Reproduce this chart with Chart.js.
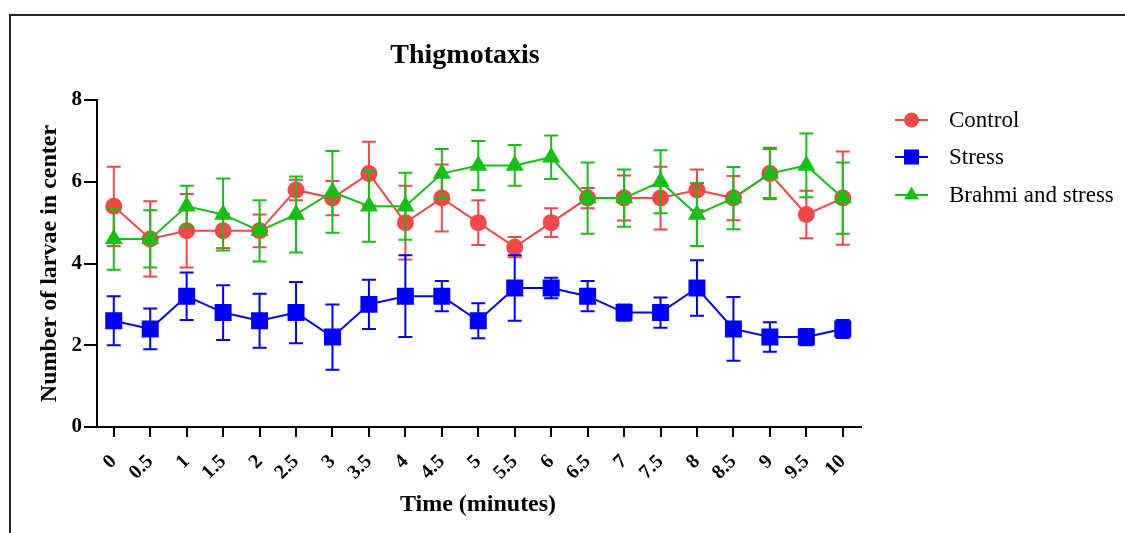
<!DOCTYPE html>
<html>
<head>
<meta charset="utf-8">
<script src="https://cdn.jsdelivr.net/npm/chart.js@4.4.0/dist/chart.umd.min.js"></script>
<style>
  html, body { margin: 0; padding: 0; background: #fff; }
  #wrap { position: relative; width: 1125px; height: 533px; overflow: hidden; }
  #frame { position: absolute; left: 9px; top: 14px; width: 1200px; height: 600px;
           border-top: 2px solid #222; border-left: 2px solid #222; }
  canvas { position: absolute; left: 0; top: 0; }
</style>
</head>
<body>
<div id="wrap">
  <div id="frame"></div>
  <canvas id="c" width="1125" height="533"></canvas>
</div>
<script>
// ---- data ----
const chartTitle = "Thigmotaxis";
const xAxisTitle = "Time (minutes)";
const yAxisTitle = "Number of larvae in center";
const timePoints = [0, 0.5, 1, 1.5, 2, 2.5, 3, 3.5, 4, 4.5, 5, 5.5, 6, 6.5, 7, 7.5, 8, 8.5, 9, 9.5, 10];
const xTickLabels = ["0", "0.5", "1", "1.5", "2", "2.5", "3", "3.5", "4", "4.5", "5", "5.5", "6", "6.5", "7", "7.5", "8", "8.5", "9", "9.5", "10"];
const yTickValues = [0, 2, 4, 6, 8];
const seriesNames = ["Control", "Stress", "Brahmi and stress"];

const controlMean = [5.4, 4.6, 4.8, 4.8, 4.8, 5.8, 5.6, 6.2, 5.0, 5.6, 5.0, 4.4, 5.0, 5.6, 5.6, 5.6, 5.8, 5.6, 6.2, 5.2, 5.6];
const controlErr  = [0.97, 0.92, 0.9, 0.42, 0.4, 0.25, 0.42, 0.78, 0.9, 0.82, 0.55, 0.25, 0.35, 0.25, 0.55, 0.77, 0.5, 0.54, 0.63, 0.58, 1.14];

const stressMean = [2.6, 2.4, 3.2, 2.8, 2.6, 2.8, 2.2, 3.0, 3.2, 3.2, 2.6, 3.4, 3.4, 3.2, 2.8, 2.8, 3.4, 2.4, 2.2, 2.2, 2.4];
const stressErr  = [0.6, 0.5, 0.58, 0.67, 0.66, 0.75, 0.8, 0.6, 1.0, 0.37, 0.43, 0.8, 0.25, 0.37, 0.2, 0.37, 0.68, 0.78, 0.36, 0.2, 0.22];

const brahmiMean = [4.6, 4.6, 5.4, 5.2, 4.8, 5.2, 5.75, 5.4, 5.4, 6.2, 6.4, 6.4, 6.6, 5.6, 5.6, 6.0, 5.2, 5.6, 6.2, 6.4, 5.6];
const brahmiErr  = [0.75, 0.7, 0.5, 0.88, 0.75, 0.93, 1.0, 0.87, 0.82, 0.6, 0.6, 0.5, 0.53, 0.87, 0.7, 0.77, 0.77, 0.76, 0.6, 0.78, 0.87];

// ---- styling ----
const RED = "#F24848", BLUE = "#0000FF", GREEN = "#16C016";
const SERIF = "'Liberation Serif', 'Times New Roman', serif";

function pts(means) { return timePoints.map((t, i) => ({ x: t, y: means[i] })); }

const errBars = [controlErr, stressErr, brahmiErr];

const errorBarPlugin = {
  id: "errorBars",
  afterDatasetDraw(chart, args) {
    const i = args.index;
    const ds = chart.data.datasets[i];
    const meta = args.meta;
    const ys = chart.scales.y;
    const ctx = chart.ctx;
    const errs = errBars[i];
    ctx.save();
    ctx.strokeStyle = ds.borderColor;
    ctx.lineWidth = 2;
    meta.data.forEach((el, k) => {
      const v = ds.data[k].y, e = errs[k];
      const x = el.x;
      const yTop = ys.getPixelForValue(v + e);
      const yBot = ys.getPixelForValue(v - e);
      ctx.beginPath();
      ctx.moveTo(x, yTop); ctx.lineTo(x, yBot);
      ctx.moveTo(x - 7, yTop); ctx.lineTo(x + 7, yTop);
      ctx.moveTo(x - 7, yBot); ctx.lineTo(x + 7, yBot);
      ctx.stroke();
    });
    ctx.restore();
  }
};

function drawMarker(ctx, style, color, x, y) {
  ctx.fillStyle = color;
  ctx.beginPath();
  if (style === "circle") {
    ctx.arc(x, y, 7.5, 0, Math.PI * 2);
  } else if (style === "rect") {
    ctx.rect(x - 7.5, y - 7.5, 15, 15);
  } else {
    const r = 8.5;
    ctx.moveTo(x, y - r);
    ctx.lineTo(x + r * Math.cos(Math.PI / 6), y + r * 0.5);
    ctx.lineTo(x - r * Math.cos(Math.PI / 6), y + r * 0.5);
    ctx.closePath();
  }
  ctx.fill();
}

const textPlugin = {
  id: "texts",
  afterDraw(chart) {
    const ctx = chart.ctx;
    const ca = chart.chartArea;
    ctx.save();
    ctx.fillStyle = "#000";
    // title
    ctx.font = "bold 28px " + SERIF;
    ctx.textAlign = "center";
    ctx.textBaseline = "alphabetic";
    ctx.fillText(chartTitle, 465, 63);
    // x axis title
    ctx.font = "bold 24px " + SERIF;
    ctx.fillText(xAxisTitle, 478, 511);
    // y axis title
    ctx.save();
    ctx.translate(56, (ca.top + ca.bottom) / 2);
    ctx.rotate(-Math.PI / 2);
    ctx.textBaseline = "alphabetic";
    ctx.fillText(yAxisTitle, 0, 0);
    ctx.restore();
    // legend
    const styles = ["circle", "rect", "triangle"];
    const colors = [RED, BLUE, GREEN];
    const rows = [120, 157, 195];
    ctx.font = "23px " + SERIF;
    ctx.textAlign = "left";
    ctx.textBaseline = "middle";
    for (let i = 0; i < 3; i++) {
      const y = rows[i];
      ctx.strokeStyle = colors[i];
      ctx.lineWidth = 2;
      ctx.beginPath();
      ctx.moveTo(895, y); ctx.lineTo(928, y);
      ctx.stroke();
      drawMarker(ctx, styles[i], colors[i], 911.5, y);
      ctx.fillStyle = "#000";
      ctx.fillText(seriesNames[i], 949, y + 1);
    }
    ctx.restore();
  }
};

const chart = new Chart(document.getElementById("c"), {
  type: "line",
  data: {
    datasets: [
      { label: seriesNames[0], data: pts(controlMean), borderColor: RED, backgroundColor: RED,
        pointStyle: "circle", pointRadius: 7.5, pointHoverRadius: 7.5, borderWidth: 2, order: 3 },
      { label: seriesNames[1], data: pts(stressMean), borderColor: BLUE, backgroundColor: BLUE,
        pointStyle: "rect", pointRadius: 10.6, pointHoverRadius: 10.6, borderWidth: 2, order: 2 },
      { label: seriesNames[2], data: pts(brahmiMean), borderColor: GREEN, backgroundColor: GREEN,
        pointStyle: "triangle", pointRadius: 8.5, pointHoverRadius: 8.5, borderWidth: 2, order: 1 }
    ]
  },
  options: {
    responsive: false,
    devicePixelRatio: 1,
    animation: false,
    events: [],
    layout: { padding: { top: 100, right: 264, left: 0, bottom: 0 } },
    plugins: { legend: { display: false }, tooltip: { enabled: false }, title: { display: false } },
    elements: { line: { tension: 0 }, point: { borderWidth: 0 } },
    scales: {
      x: {
        type: "linear",
        min: -0.23,
        max: 10.25,
        afterBuildTicks(scale) { scale.ticks = timePoints.map(v => ({ value: v })); },
        afterFit(scale) { scale.height = 106; },
        ticks: {
          autoSkip: false,
          minRotation: 45,
          maxRotation: 45,
          padding: 13,
          color: "#000",
          font: { family: SERIF, size: 20, weight: "bold" },
          callback(value, index) { return xTickLabels[index]; }
        },
        grid: { display: true, drawOnChartArea: false, drawTicks: true, tickLength: 10, color: "#000", lineWidth: 2 },
        border: { display: true, color: "#000", width: 2 }
      },
      y: {
        type: "linear",
        min: 0,
        max: 8,
        afterBuildTicks(scale) { scale.ticks = yTickValues.map(v => ({ value: v })); },
        afterFit(scale) { scale.width = 97; },
        ticks: {
          padding: 2,
          color: "#000",
          font: { family: SERIF, size: 21, weight: "bold" }
        },
        grid: { display: true, drawOnChartArea: false, drawTicks: true, tickLength: 13, color: "#000", lineWidth: 2 },
        border: { display: true, color: "#000", width: 2 }
      }
    }
  },
  plugins: [errorBarPlugin, textPlugin]
});
</script>
</body>
</html>
